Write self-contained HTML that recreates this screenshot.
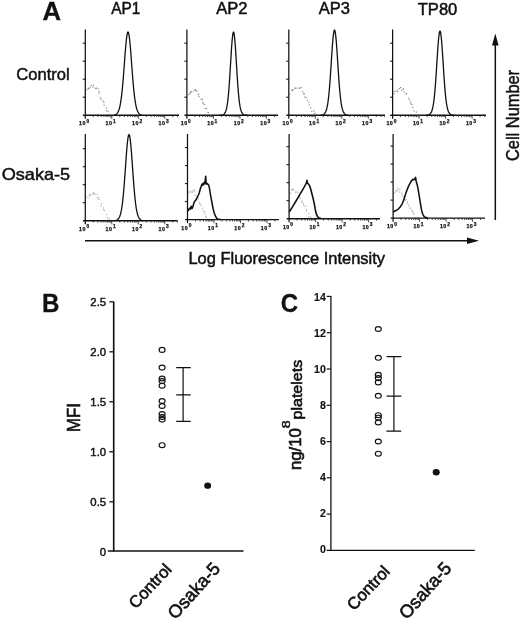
<!DOCTYPE html>
<html><head><meta charset="utf-8"><title>Figure</title>
<style>html,body{margin:0;padding:0;background:#fff}svg{display:block}</style></head>
<body>
<svg width="520" height="620" viewBox="0 0 520 620">
<rect width="520" height="620" fill="#fff"/>
<g font-family='"Liberation Sans", Arial, Helvetica, sans-serif' fill="#111">
<text transform="translate(42.41,19.85) rotate(0) scale(1.0151,1)" font-size="25.29" font-weight="bold" stroke="#111" stroke-width="0.30" >A</text>
<text transform="translate(42.08,311.75) rotate(0) scale(0.9667,1)" font-size="24.93" font-weight="bold" stroke="#111" stroke-width="0.30" >B</text>
<text transform="translate(280.69,311.70) rotate(0) scale(0.9428,1)" font-size="25.42" font-weight="bold" stroke="#111" stroke-width="0.30" >C</text>
<text transform="translate(111.16,14.16) rotate(0) scale(0.9517,1)" font-size="16.19" stroke="#111" stroke-width="0.48" >AP1</text>
<text transform="translate(216.16,14.26) rotate(0) scale(1.0297,1)" font-size="16.10" stroke="#111" stroke-width="0.48" >AP2</text>
<text transform="translate(318.66,14.35) rotate(0) scale(1.0189,1)" font-size="16.23" stroke="#111" stroke-width="0.48" >AP3</text>
<text transform="translate(417.73,14.50) rotate(0) scale(1.0300,1)" font-size="16.08" stroke="#111" stroke-width="0.48" >TP80</text>
<text transform="translate(16.31,79.59) rotate(0) scale(0.9636,1)" font-size="17.17" stroke="#111" stroke-width="0.48" >Control</text>
<text transform="translate(1.67,179.89) rotate(0) scale(1.0564,1)" font-size="17.17" stroke="#111" stroke-width="0.48" >Osaka-5</text>
<text transform="translate(188.42,263.68) rotate(0) scale(1.0523,1)" font-size="15.64" stroke="#111" stroke-width="0.48" >Log Fluorescence Intensity</text>
<text transform="translate(518.88,160.98) rotate(-90) scale(0.9328,1)" font-size="17.58" stroke="#111" stroke-width="0.48" >Cell Number</text>
</g>
<g stroke="#111" stroke-width="1.4" fill="none">
<line x1="85.30" y1="29.50" x2="85.30" y2="118.80" stroke-width="1.25"/>
<line x1="82.90" y1="115.20" x2="179.00" y2="115.20"/>
</g>
<g stroke="#111" stroke-width="1.05">
<line x1="82.70" y1="97.20" x2="85.30" y2="97.20"/>
<line x1="82.70" y1="79.20" x2="85.30" y2="79.20"/>
<line x1="82.70" y1="61.20" x2="85.30" y2="61.20"/>
<line x1="82.70" y1="43.20" x2="85.30" y2="43.20"/>
</g>
<g stroke="#222" stroke-width="0.8">
<line x1="93.28" y1="115.20" x2="93.28" y2="117.10"/>
<line x1="97.94" y1="115.20" x2="97.94" y2="117.10"/>
<line x1="101.25" y1="115.20" x2="101.25" y2="117.10"/>
<line x1="103.82" y1="115.20" x2="103.82" y2="117.10"/>
<line x1="105.92" y1="115.20" x2="105.92" y2="117.10"/>
<line x1="107.70" y1="115.20" x2="107.70" y2="117.10"/>
<line x1="109.23" y1="115.20" x2="109.23" y2="117.10"/>
<line x1="110.59" y1="115.20" x2="110.59" y2="117.10"/>
<line x1="111.80" y1="115.20" x2="111.80" y2="118.80"/>
<line x1="119.78" y1="115.20" x2="119.78" y2="117.10"/>
<line x1="124.44" y1="115.20" x2="124.44" y2="117.10"/>
<line x1="127.75" y1="115.20" x2="127.75" y2="117.10"/>
<line x1="130.32" y1="115.20" x2="130.32" y2="117.10"/>
<line x1="132.42" y1="115.20" x2="132.42" y2="117.10"/>
<line x1="134.20" y1="115.20" x2="134.20" y2="117.10"/>
<line x1="135.73" y1="115.20" x2="135.73" y2="117.10"/>
<line x1="137.09" y1="115.20" x2="137.09" y2="117.10"/>
<line x1="138.30" y1="115.20" x2="138.30" y2="118.80"/>
<line x1="146.28" y1="115.20" x2="146.28" y2="117.10"/>
<line x1="150.94" y1="115.20" x2="150.94" y2="117.10"/>
<line x1="154.25" y1="115.20" x2="154.25" y2="117.10"/>
<line x1="156.82" y1="115.20" x2="156.82" y2="117.10"/>
<line x1="158.92" y1="115.20" x2="158.92" y2="117.10"/>
<line x1="160.70" y1="115.20" x2="160.70" y2="117.10"/>
<line x1="162.23" y1="115.20" x2="162.23" y2="117.10"/>
<line x1="163.59" y1="115.20" x2="163.59" y2="117.10"/>
<line x1="164.80" y1="115.20" x2="164.80" y2="118.80"/>
<line x1="172.78" y1="115.20" x2="172.78" y2="117.10"/>
<line x1="177.44" y1="115.20" x2="177.44" y2="117.10"/>
</g>
<text x="79.10" y="125.40" font-size="5.3" letter-spacing="0.5" font-weight="bold" fill="#111" stroke="#111" stroke-width="0.25" font-family='"Liberation Sans", Arial, Helvetica, sans-serif'>10<tspan dy="-2.5" dx="0.5" font-size="4.8">0</tspan></text>
<text x="105.60" y="125.40" font-size="5.3" letter-spacing="0.5" font-weight="bold" fill="#111" stroke="#111" stroke-width="0.25" font-family='"Liberation Sans", Arial, Helvetica, sans-serif'>10<tspan dy="-2.5" dx="0.5" font-size="4.8">1</tspan></text>
<text x="132.10" y="125.40" font-size="5.3" letter-spacing="0.5" font-weight="bold" fill="#111" stroke="#111" stroke-width="0.25" font-family='"Liberation Sans", Arial, Helvetica, sans-serif'>10<tspan dy="-2.5" dx="0.5" font-size="4.8">2</tspan></text>
<text x="158.60" y="125.40" font-size="5.3" letter-spacing="0.5" font-weight="bold" fill="#111" stroke="#111" stroke-width="0.25" font-family='"Liberation Sans", Arial, Helvetica, sans-serif'>10<tspan dy="-2.5" dx="0.5" font-size="4.8">3</tspan></text>
<g fill="#555" opacity="0.70"><rect x="85.78" y="89.52" width="1.15" height="1.15"/><rect x="87.45" y="88.14" width="1.15" height="1.15"/><rect x="88.31" y="88.03" width="1.15" height="1.15"/><rect x="88.53" y="87.54" width="1.15" height="1.15"/><rect x="89.56" y="86.51" width="1.15" height="1.15"/><rect x="90.70" y="84.81" width="1.15" height="1.15"/><rect x="92.41" y="86.75" width="1.15" height="1.15"/><rect x="92.94" y="84.63" width="1.15" height="1.15"/><rect x="94.92" y="87.81" width="1.15" height="1.15"/><rect x="95.90" y="87.61" width="1.15" height="1.15"/><rect x="97.70" y="88.26" width="1.15" height="1.15"/><rect x="98.56" y="91.01" width="1.15" height="1.15"/><rect x="98.35" y="92.59" width="1.15" height="1.15"/><rect x="99.72" y="97.09" width="1.15" height="1.15"/><rect x="100.56" y="98.69" width="1.15" height="1.15"/><rect x="102.46" y="100.41" width="1.15" height="1.15"/><rect x="103.37" y="101.79" width="1.15" height="1.15"/><rect x="103.56" y="104.57" width="1.15" height="1.15"/><rect x="105.76" y="107.50" width="1.15" height="1.15"/><rect x="106.17" y="110.08" width="1.15" height="1.15"/><rect x="107.49" y="111.06" width="1.15" height="1.15"/><rect x="109.18" y="114.03" width="1.15" height="1.15"/><rect x="109.27" y="115.10" width="1.15" height="1.15"/><rect x="110.85" y="117.30" width="1.15" height="1.15"/></g>
<path d="M114.00 115.20 L114.47 115.20 L114.93 115.00 L115.40 114.74 L115.87 114.44 L116.33 114.08 L116.80 113.64 L117.27 113.11 L117.73 112.44 L118.20 111.61 L118.67 110.56 L119.13 109.25 L119.60 107.62 L120.07 105.61 L120.53 103.15 L121.00 100.20 L121.47 96.71 L121.93 92.65 L122.40 88.02 L122.87 82.86 L123.33 77.22 L123.80 71.22 L124.27 65.00 L124.73 58.75 L125.20 52.67 L125.67 46.99 L126.13 41.95 L126.60 37.76 L127.07 34.61 L127.53 32.66 L128.00 32.00 L128.47 32.66 L128.93 34.61 L129.40 37.76 L129.87 41.95 L130.33 46.99 L130.80 52.67 L131.27 58.75 L131.73 65.00 L132.20 71.22 L132.67 77.22 L133.13 82.86 L133.60 88.02 L134.07 92.65 L134.53 96.71 L135.00 100.20 L135.47 103.15 L135.93 105.61 L136.40 107.62 L136.87 109.25 L137.33 110.56 L137.80 111.61 L138.27 112.44 L138.73 113.11 L139.20 113.64 L139.67 114.08 L140.13 114.44 L140.60 114.74 L141.07 115.00 L141.53 115.20 L142.00 115.20" fill="none" stroke="#111" stroke-width="1.30" stroke-linejoin="round"/>
<g stroke="#111" stroke-width="1.4" fill="none">
<line x1="186.90" y1="29.50" x2="186.90" y2="118.80" stroke-width="1.25"/>
<line x1="184.50" y1="115.20" x2="278.00" y2="115.20"/>
</g>
<g stroke="#111" stroke-width="1.05">
<line x1="184.30" y1="97.20" x2="186.90" y2="97.20"/>
<line x1="184.30" y1="79.20" x2="186.90" y2="79.20"/>
<line x1="184.30" y1="61.20" x2="186.90" y2="61.20"/>
<line x1="184.30" y1="43.20" x2="186.90" y2="43.20"/>
</g>
<g stroke="#222" stroke-width="0.8">
<line x1="194.88" y1="115.20" x2="194.88" y2="117.10"/>
<line x1="199.54" y1="115.20" x2="199.54" y2="117.10"/>
<line x1="202.85" y1="115.20" x2="202.85" y2="117.10"/>
<line x1="205.42" y1="115.20" x2="205.42" y2="117.10"/>
<line x1="207.52" y1="115.20" x2="207.52" y2="117.10"/>
<line x1="209.30" y1="115.20" x2="209.30" y2="117.10"/>
<line x1="210.83" y1="115.20" x2="210.83" y2="117.10"/>
<line x1="212.19" y1="115.20" x2="212.19" y2="117.10"/>
<line x1="213.40" y1="115.20" x2="213.40" y2="118.80"/>
<line x1="221.38" y1="115.20" x2="221.38" y2="117.10"/>
<line x1="226.04" y1="115.20" x2="226.04" y2="117.10"/>
<line x1="229.35" y1="115.20" x2="229.35" y2="117.10"/>
<line x1="231.92" y1="115.20" x2="231.92" y2="117.10"/>
<line x1="234.02" y1="115.20" x2="234.02" y2="117.10"/>
<line x1="235.80" y1="115.20" x2="235.80" y2="117.10"/>
<line x1="237.33" y1="115.20" x2="237.33" y2="117.10"/>
<line x1="238.69" y1="115.20" x2="238.69" y2="117.10"/>
<line x1="239.90" y1="115.20" x2="239.90" y2="118.80"/>
<line x1="247.88" y1="115.20" x2="247.88" y2="117.10"/>
<line x1="252.54" y1="115.20" x2="252.54" y2="117.10"/>
<line x1="255.85" y1="115.20" x2="255.85" y2="117.10"/>
<line x1="258.42" y1="115.20" x2="258.42" y2="117.10"/>
<line x1="260.52" y1="115.20" x2="260.52" y2="117.10"/>
<line x1="262.30" y1="115.20" x2="262.30" y2="117.10"/>
<line x1="263.83" y1="115.20" x2="263.83" y2="117.10"/>
<line x1="265.19" y1="115.20" x2="265.19" y2="117.10"/>
<line x1="266.40" y1="115.20" x2="266.40" y2="118.80"/>
<line x1="274.38" y1="115.20" x2="274.38" y2="117.10"/>
</g>
<text x="180.70" y="125.40" font-size="5.3" letter-spacing="0.5" font-weight="bold" fill="#111" stroke="#111" stroke-width="0.25" font-family='"Liberation Sans", Arial, Helvetica, sans-serif'>10<tspan dy="-2.5" dx="0.5" font-size="4.8">0</tspan></text>
<text x="207.20" y="125.40" font-size="5.3" letter-spacing="0.5" font-weight="bold" fill="#111" stroke="#111" stroke-width="0.25" font-family='"Liberation Sans", Arial, Helvetica, sans-serif'>10<tspan dy="-2.5" dx="0.5" font-size="4.8">1</tspan></text>
<text x="233.70" y="125.40" font-size="5.3" letter-spacing="0.5" font-weight="bold" fill="#111" stroke="#111" stroke-width="0.25" font-family='"Liberation Sans", Arial, Helvetica, sans-serif'>10<tspan dy="-2.5" dx="0.5" font-size="4.8">2</tspan></text>
<text x="260.20" y="125.40" font-size="5.3" letter-spacing="0.5" font-weight="bold" fill="#111" stroke="#111" stroke-width="0.25" font-family='"Liberation Sans", Arial, Helvetica, sans-serif'>10<tspan dy="-2.5" dx="0.5" font-size="4.8">3</tspan></text>
<g fill="#555" opacity="0.70"><rect x="188.11" y="93.89" width="1.15" height="1.15"/><rect x="189.61" y="92.17" width="1.15" height="1.15"/><rect x="189.65" y="93.13" width="1.15" height="1.15"/><rect x="190.22" y="91.31" width="1.15" height="1.15"/><rect x="191.06" y="91.10" width="1.15" height="1.15"/><rect x="193.42" y="90.21" width="1.15" height="1.15"/><rect x="194.66" y="89.02" width="1.15" height="1.15"/><rect x="195.39" y="89.84" width="1.15" height="1.15"/><rect x="196.23" y="90.59" width="1.15" height="1.15"/><rect x="197.74" y="93.54" width="1.15" height="1.15"/><rect x="198.13" y="94.19" width="1.15" height="1.15"/><rect x="198.44" y="96.02" width="1.15" height="1.15"/><rect x="200.54" y="98.79" width="1.15" height="1.15"/><rect x="201.90" y="98.45" width="1.15" height="1.15"/><rect x="202.16" y="101.68" width="1.15" height="1.15"/><rect x="202.56" y="103.03" width="1.15" height="1.15"/><rect x="203.87" y="103.93" width="1.15" height="1.15"/><rect x="204.72" y="107.96" width="1.15" height="1.15"/><rect x="205.89" y="108.15" width="1.15" height="1.15"/><rect x="207.41" y="111.89" width="1.15" height="1.15"/><rect x="207.90" y="112.12" width="1.15" height="1.15"/><rect x="209.79" y="114.93" width="1.15" height="1.15"/><rect x="211.33" y="116.10" width="1.15" height="1.15"/><rect x="211.40" y="115.71" width="1.15" height="1.15"/></g>
<path d="M219.50 115.20 L219.97 115.20 L220.43 115.20 L220.90 115.20 L221.37 115.20 L221.83 115.20 L222.30 115.20 L222.77 115.13 L223.23 114.83 L223.70 114.46 L224.17 114.01 L224.63 113.43 L225.10 112.69 L225.57 111.70 L226.03 110.40 L226.50 108.67 L226.97 106.42 L227.43 103.52 L227.90 99.86 L228.37 95.37 L228.83 90.00 L229.30 83.78 L229.77 76.82 L230.23 69.31 L230.70 61.54 L231.17 53.90 L231.63 46.81 L232.10 40.70 L232.57 35.99 L233.03 33.02 L233.50 32.00 L233.97 33.02 L234.43 35.99 L234.90 40.70 L235.37 46.81 L235.83 53.90 L236.30 61.54 L236.77 69.31 L237.23 76.82 L237.70 83.78 L238.17 90.00 L238.63 95.37 L239.10 99.86 L239.57 103.52 L240.03 106.42 L240.50 108.67 L240.97 110.40 L241.43 111.70 L241.90 112.69 L242.37 113.43 L242.83 114.01 L243.30 114.46 L243.77 114.83 L244.23 115.13 L244.70 115.20 L245.17 115.20 L245.63 115.20 L246.10 115.20 L246.57 115.20 L247.03 115.20 L247.50 115.20" fill="none" stroke="#111" stroke-width="1.30" stroke-linejoin="round"/>
<g stroke="#111" stroke-width="1.4" fill="none">
<line x1="288.80" y1="29.50" x2="288.80" y2="118.80" stroke-width="1.25"/>
<line x1="286.40" y1="115.20" x2="385.00" y2="115.20"/>
</g>
<g stroke="#111" stroke-width="1.05">
<line x1="286.20" y1="97.20" x2="288.80" y2="97.20"/>
<line x1="286.20" y1="79.20" x2="288.80" y2="79.20"/>
<line x1="286.20" y1="61.20" x2="288.80" y2="61.20"/>
<line x1="286.20" y1="43.20" x2="288.80" y2="43.20"/>
</g>
<g stroke="#222" stroke-width="0.8">
<line x1="296.78" y1="115.20" x2="296.78" y2="117.10"/>
<line x1="301.44" y1="115.20" x2="301.44" y2="117.10"/>
<line x1="304.75" y1="115.20" x2="304.75" y2="117.10"/>
<line x1="307.32" y1="115.20" x2="307.32" y2="117.10"/>
<line x1="309.42" y1="115.20" x2="309.42" y2="117.10"/>
<line x1="311.20" y1="115.20" x2="311.20" y2="117.10"/>
<line x1="312.73" y1="115.20" x2="312.73" y2="117.10"/>
<line x1="314.09" y1="115.20" x2="314.09" y2="117.10"/>
<line x1="315.30" y1="115.20" x2="315.30" y2="118.80"/>
<line x1="323.28" y1="115.20" x2="323.28" y2="117.10"/>
<line x1="327.94" y1="115.20" x2="327.94" y2="117.10"/>
<line x1="331.25" y1="115.20" x2="331.25" y2="117.10"/>
<line x1="333.82" y1="115.20" x2="333.82" y2="117.10"/>
<line x1="335.92" y1="115.20" x2="335.92" y2="117.10"/>
<line x1="337.70" y1="115.20" x2="337.70" y2="117.10"/>
<line x1="339.23" y1="115.20" x2="339.23" y2="117.10"/>
<line x1="340.59" y1="115.20" x2="340.59" y2="117.10"/>
<line x1="341.80" y1="115.20" x2="341.80" y2="118.80"/>
<line x1="349.78" y1="115.20" x2="349.78" y2="117.10"/>
<line x1="354.44" y1="115.20" x2="354.44" y2="117.10"/>
<line x1="357.75" y1="115.20" x2="357.75" y2="117.10"/>
<line x1="360.32" y1="115.20" x2="360.32" y2="117.10"/>
<line x1="362.42" y1="115.20" x2="362.42" y2="117.10"/>
<line x1="364.20" y1="115.20" x2="364.20" y2="117.10"/>
<line x1="365.73" y1="115.20" x2="365.73" y2="117.10"/>
<line x1="367.09" y1="115.20" x2="367.09" y2="117.10"/>
<line x1="368.30" y1="115.20" x2="368.30" y2="118.80"/>
<line x1="376.28" y1="115.20" x2="376.28" y2="117.10"/>
<line x1="380.94" y1="115.20" x2="380.94" y2="117.10"/>
<line x1="384.25" y1="115.20" x2="384.25" y2="117.10"/>
</g>
<text x="282.60" y="125.40" font-size="5.3" letter-spacing="0.5" font-weight="bold" fill="#111" stroke="#111" stroke-width="0.25" font-family='"Liberation Sans", Arial, Helvetica, sans-serif'>10<tspan dy="-2.5" dx="0.5" font-size="4.8">0</tspan></text>
<text x="309.10" y="125.40" font-size="5.3" letter-spacing="0.5" font-weight="bold" fill="#111" stroke="#111" stroke-width="0.25" font-family='"Liberation Sans", Arial, Helvetica, sans-serif'>10<tspan dy="-2.5" dx="0.5" font-size="4.8">1</tspan></text>
<text x="335.60" y="125.40" font-size="5.3" letter-spacing="0.5" font-weight="bold" fill="#111" stroke="#111" stroke-width="0.25" font-family='"Liberation Sans", Arial, Helvetica, sans-serif'>10<tspan dy="-2.5" dx="0.5" font-size="4.8">2</tspan></text>
<text x="362.10" y="125.40" font-size="5.3" letter-spacing="0.5" font-weight="bold" fill="#111" stroke="#111" stroke-width="0.25" font-family='"Liberation Sans", Arial, Helvetica, sans-serif'>10<tspan dy="-2.5" dx="0.5" font-size="4.8">3</tspan></text>
<g fill="#555" opacity="0.70"><rect x="289.35" y="93.49" width="1.15" height="1.15"/><rect x="291.61" y="90.08" width="1.15" height="1.15"/><rect x="291.38" y="89.33" width="1.15" height="1.15"/><rect x="292.67" y="89.23" width="1.15" height="1.15"/><rect x="294.49" y="87.73" width="1.15" height="1.15"/><rect x="294.62" y="87.59" width="1.15" height="1.15"/><rect x="296.46" y="87.59" width="1.15" height="1.15"/><rect x="298.69" y="87.70" width="1.15" height="1.15"/><rect x="299.09" y="87.44" width="1.15" height="1.15"/><rect x="300.56" y="87.04" width="1.15" height="1.15"/><rect x="302.15" y="91.00" width="1.15" height="1.15"/><rect x="303.28" y="92.90" width="1.15" height="1.15"/><rect x="303.60" y="93.65" width="1.15" height="1.15"/><rect x="304.26" y="96.59" width="1.15" height="1.15"/><rect x="305.37" y="97.05" width="1.15" height="1.15"/><rect x="306.81" y="99.70" width="1.15" height="1.15"/><rect x="308.23" y="101.70" width="1.15" height="1.15"/><rect x="308.80" y="104.32" width="1.15" height="1.15"/><rect x="310.17" y="107.21" width="1.15" height="1.15"/><rect x="311.22" y="110.91" width="1.15" height="1.15"/><rect x="313.46" y="110.49" width="1.15" height="1.15"/><rect x="313.99" y="112.82" width="1.15" height="1.15"/><rect x="315.37" y="113.57" width="1.15" height="1.15"/><rect x="317.43" y="117.59" width="1.15" height="1.15"/></g>
<path d="M320.50 115.20 L320.97 115.20 L321.43 115.20 L321.90 115.20 L322.37 115.20 L322.83 115.03 L323.30 114.73 L323.77 114.38 L324.23 113.95 L324.70 113.41 L325.17 112.73 L325.63 111.86 L326.10 110.74 L326.57 109.29 L327.03 107.44 L327.50 105.09 L327.97 102.16 L328.43 98.57 L328.90 94.26 L329.37 89.21 L329.83 83.45 L330.30 77.05 L330.77 70.16 L331.23 62.99 L331.70 55.81 L332.17 48.93 L332.63 42.67 L333.10 37.39 L333.57 33.37 L334.03 30.86 L334.50 30.00 L334.97 30.86 L335.43 33.37 L335.90 37.39 L336.37 42.67 L336.83 48.93 L337.30 55.81 L337.77 62.99 L338.23 70.16 L338.70 77.05 L339.17 83.45 L339.63 89.21 L340.10 94.26 L340.57 98.57 L341.03 102.16 L341.50 105.09 L341.97 107.44 L342.43 109.29 L342.90 110.74 L343.37 111.86 L343.83 112.73 L344.30 113.41 L344.77 113.95 L345.23 114.38 L345.70 114.73 L346.17 115.03 L346.63 115.20 L347.10 115.20 L347.57 115.20 L348.03 115.20 L348.50 115.20" fill="none" stroke="#111" stroke-width="1.30" stroke-linejoin="round"/>
<g stroke="#111" stroke-width="1.4" fill="none">
<line x1="392.60" y1="29.50" x2="392.60" y2="118.80" stroke-width="1.25"/>
<line x1="390.20" y1="115.20" x2="486.00" y2="115.20"/>
</g>
<g stroke="#111" stroke-width="1.05">
<line x1="390.00" y1="97.20" x2="392.60" y2="97.20"/>
<line x1="390.00" y1="79.20" x2="392.60" y2="79.20"/>
<line x1="390.00" y1="61.20" x2="392.60" y2="61.20"/>
<line x1="390.00" y1="43.20" x2="392.60" y2="43.20"/>
</g>
<g stroke="#222" stroke-width="0.8">
<line x1="400.58" y1="115.20" x2="400.58" y2="117.10"/>
<line x1="405.24" y1="115.20" x2="405.24" y2="117.10"/>
<line x1="408.55" y1="115.20" x2="408.55" y2="117.10"/>
<line x1="411.12" y1="115.20" x2="411.12" y2="117.10"/>
<line x1="413.22" y1="115.20" x2="413.22" y2="117.10"/>
<line x1="415.00" y1="115.20" x2="415.00" y2="117.10"/>
<line x1="416.53" y1="115.20" x2="416.53" y2="117.10"/>
<line x1="417.89" y1="115.20" x2="417.89" y2="117.10"/>
<line x1="419.10" y1="115.20" x2="419.10" y2="118.80"/>
<line x1="427.08" y1="115.20" x2="427.08" y2="117.10"/>
<line x1="431.74" y1="115.20" x2="431.74" y2="117.10"/>
<line x1="435.05" y1="115.20" x2="435.05" y2="117.10"/>
<line x1="437.62" y1="115.20" x2="437.62" y2="117.10"/>
<line x1="439.72" y1="115.20" x2="439.72" y2="117.10"/>
<line x1="441.50" y1="115.20" x2="441.50" y2="117.10"/>
<line x1="443.03" y1="115.20" x2="443.03" y2="117.10"/>
<line x1="444.39" y1="115.20" x2="444.39" y2="117.10"/>
<line x1="445.60" y1="115.20" x2="445.60" y2="118.80"/>
<line x1="453.58" y1="115.20" x2="453.58" y2="117.10"/>
<line x1="458.24" y1="115.20" x2="458.24" y2="117.10"/>
<line x1="461.55" y1="115.20" x2="461.55" y2="117.10"/>
<line x1="464.12" y1="115.20" x2="464.12" y2="117.10"/>
<line x1="466.22" y1="115.20" x2="466.22" y2="117.10"/>
<line x1="468.00" y1="115.20" x2="468.00" y2="117.10"/>
<line x1="469.53" y1="115.20" x2="469.53" y2="117.10"/>
<line x1="470.89" y1="115.20" x2="470.89" y2="117.10"/>
<line x1="472.10" y1="115.20" x2="472.10" y2="118.80"/>
<line x1="480.08" y1="115.20" x2="480.08" y2="117.10"/>
<line x1="484.74" y1="115.20" x2="484.74" y2="117.10"/>
</g>
<text x="386.40" y="125.40" font-size="5.3" letter-spacing="0.5" font-weight="bold" fill="#111" stroke="#111" stroke-width="0.25" font-family='"Liberation Sans", Arial, Helvetica, sans-serif'>10<tspan dy="-2.5" dx="0.5" font-size="4.8">0</tspan></text>
<text x="412.90" y="125.40" font-size="5.3" letter-spacing="0.5" font-weight="bold" fill="#111" stroke="#111" stroke-width="0.25" font-family='"Liberation Sans", Arial, Helvetica, sans-serif'>10<tspan dy="-2.5" dx="0.5" font-size="4.8">1</tspan></text>
<text x="439.40" y="125.40" font-size="5.3" letter-spacing="0.5" font-weight="bold" fill="#111" stroke="#111" stroke-width="0.25" font-family='"Liberation Sans", Arial, Helvetica, sans-serif'>10<tspan dy="-2.5" dx="0.5" font-size="4.8">2</tspan></text>
<text x="465.90" y="125.40" font-size="5.3" letter-spacing="0.5" font-weight="bold" fill="#111" stroke="#111" stroke-width="0.25" font-family='"Liberation Sans", Arial, Helvetica, sans-serif'>10<tspan dy="-2.5" dx="0.5" font-size="4.8">3</tspan></text>
<g fill="#555" opacity="0.70"><rect x="393.34" y="93.19" width="1.15" height="1.15"/><rect x="393.74" y="90.96" width="1.15" height="1.15"/><rect x="395.28" y="90.53" width="1.15" height="1.15"/><rect x="397.24" y="89.32" width="1.15" height="1.15"/><rect x="396.87" y="91.08" width="1.15" height="1.15"/><rect x="398.86" y="87.87" width="1.15" height="1.15"/><rect x="399.97" y="86.99" width="1.15" height="1.15"/><rect x="401.03" y="89.71" width="1.15" height="1.15"/><rect x="402.71" y="88.64" width="1.15" height="1.15"/><rect x="402.71" y="88.38" width="1.15" height="1.15"/><rect x="403.63" y="91.21" width="1.15" height="1.15"/><rect x="405.37" y="93.00" width="1.15" height="1.15"/><rect x="406.08" y="93.20" width="1.15" height="1.15"/><rect x="408.03" y="97.77" width="1.15" height="1.15"/><rect x="409.19" y="99.46" width="1.15" height="1.15"/><rect x="410.21" y="101.58" width="1.15" height="1.15"/><rect x="410.23" y="103.22" width="1.15" height="1.15"/><rect x="411.54" y="103.98" width="1.15" height="1.15"/><rect x="412.04" y="107.00" width="1.15" height="1.15"/><rect x="413.54" y="110.41" width="1.15" height="1.15"/><rect x="415.87" y="111.53" width="1.15" height="1.15"/><rect x="416.92" y="114.96" width="1.15" height="1.15"/><rect x="418.04" y="114.43" width="1.15" height="1.15"/><rect x="417.80" y="115.20" width="1.15" height="1.15"/></g>
<path d="M426.00 115.20 L426.47 115.20 L426.93 115.20 L427.40 115.20 L427.87 115.20 L428.33 115.20 L428.80 114.97 L429.27 114.65 L429.73 114.27 L430.20 113.80 L430.67 113.21 L431.13 112.46 L431.60 111.47 L432.07 110.19 L432.53 108.53 L433.00 106.40 L433.47 103.70 L433.93 100.33 L434.40 96.24 L434.87 91.37 L435.33 85.73 L435.80 79.39 L436.27 72.49 L436.73 65.22 L437.20 57.87 L437.67 50.77 L438.13 44.28 L438.60 38.76 L439.07 34.54 L439.53 31.90 L440.00 31.00 L440.47 31.90 L440.93 34.54 L441.40 38.76 L441.87 44.28 L442.33 50.77 L442.80 57.87 L443.27 65.22 L443.73 72.49 L444.20 79.39 L444.67 85.73 L445.13 91.37 L445.60 96.24 L446.07 100.33 L446.53 103.70 L447.00 106.40 L447.47 108.53 L447.93 110.19 L448.40 111.47 L448.87 112.46 L449.33 113.21 L449.80 113.80 L450.27 114.27 L450.73 114.65 L451.20 114.97 L451.67 115.20 L452.13 115.20 L452.60 115.20 L453.07 115.20 L453.53 115.20 L454.00 115.20" fill="none" stroke="#111" stroke-width="1.30" stroke-linejoin="round"/>
<g stroke="#111" stroke-width="1.4" fill="none">
<line x1="85.30" y1="134.00" x2="85.30" y2="224.30" stroke-width="1.25"/>
<line x1="82.90" y1="220.70" x2="177.50" y2="220.70"/>
</g>
<g stroke="#111" stroke-width="1.05">
<line x1="82.70" y1="202.70" x2="85.30" y2="202.70"/>
<line x1="82.70" y1="184.70" x2="85.30" y2="184.70"/>
<line x1="82.70" y1="166.70" x2="85.30" y2="166.70"/>
<line x1="82.70" y1="148.70" x2="85.30" y2="148.70"/>
</g>
<g stroke="#222" stroke-width="0.8">
<line x1="93.28" y1="220.70" x2="93.28" y2="222.60"/>
<line x1="97.94" y1="220.70" x2="97.94" y2="222.60"/>
<line x1="101.25" y1="220.70" x2="101.25" y2="222.60"/>
<line x1="103.82" y1="220.70" x2="103.82" y2="222.60"/>
<line x1="105.92" y1="220.70" x2="105.92" y2="222.60"/>
<line x1="107.70" y1="220.70" x2="107.70" y2="222.60"/>
<line x1="109.23" y1="220.70" x2="109.23" y2="222.60"/>
<line x1="110.59" y1="220.70" x2="110.59" y2="222.60"/>
<line x1="111.80" y1="220.70" x2="111.80" y2="224.30"/>
<line x1="119.78" y1="220.70" x2="119.78" y2="222.60"/>
<line x1="124.44" y1="220.70" x2="124.44" y2="222.60"/>
<line x1="127.75" y1="220.70" x2="127.75" y2="222.60"/>
<line x1="130.32" y1="220.70" x2="130.32" y2="222.60"/>
<line x1="132.42" y1="220.70" x2="132.42" y2="222.60"/>
<line x1="134.20" y1="220.70" x2="134.20" y2="222.60"/>
<line x1="135.73" y1="220.70" x2="135.73" y2="222.60"/>
<line x1="137.09" y1="220.70" x2="137.09" y2="222.60"/>
<line x1="138.30" y1="220.70" x2="138.30" y2="224.30"/>
<line x1="146.28" y1="220.70" x2="146.28" y2="222.60"/>
<line x1="150.94" y1="220.70" x2="150.94" y2="222.60"/>
<line x1="154.25" y1="220.70" x2="154.25" y2="222.60"/>
<line x1="156.82" y1="220.70" x2="156.82" y2="222.60"/>
<line x1="158.92" y1="220.70" x2="158.92" y2="222.60"/>
<line x1="160.70" y1="220.70" x2="160.70" y2="222.60"/>
<line x1="162.23" y1="220.70" x2="162.23" y2="222.60"/>
<line x1="163.59" y1="220.70" x2="163.59" y2="222.60"/>
<line x1="164.80" y1="220.70" x2="164.80" y2="224.30"/>
<line x1="172.78" y1="220.70" x2="172.78" y2="222.60"/>
<line x1="177.44" y1="220.70" x2="177.44" y2="222.60"/>
</g>
<text x="79.10" y="230.90" font-size="5.3" letter-spacing="0.5" font-weight="bold" fill="#111" stroke="#111" stroke-width="0.25" font-family='"Liberation Sans", Arial, Helvetica, sans-serif'>10<tspan dy="-2.5" dx="0.5" font-size="4.8">0</tspan></text>
<text x="105.60" y="230.90" font-size="5.3" letter-spacing="0.5" font-weight="bold" fill="#111" stroke="#111" stroke-width="0.25" font-family='"Liberation Sans", Arial, Helvetica, sans-serif'>10<tspan dy="-2.5" dx="0.5" font-size="4.8">1</tspan></text>
<text x="132.10" y="230.90" font-size="5.3" letter-spacing="0.5" font-weight="bold" fill="#111" stroke="#111" stroke-width="0.25" font-family='"Liberation Sans", Arial, Helvetica, sans-serif'>10<tspan dy="-2.5" dx="0.5" font-size="4.8">2</tspan></text>
<text x="158.60" y="230.90" font-size="5.3" letter-spacing="0.5" font-weight="bold" fill="#111" stroke="#111" stroke-width="0.25" font-family='"Liberation Sans", Arial, Helvetica, sans-serif'>10<tspan dy="-2.5" dx="0.5" font-size="4.8">3</tspan></text>
<g fill="#555" opacity="0.50"><rect x="85.55" y="196.19" width="1.15" height="1.15"/><rect x="87.40" y="197.29" width="1.15" height="1.15"/><rect x="88.86" y="194.89" width="1.15" height="1.15"/><rect x="89.60" y="194.97" width="1.15" height="1.15"/><rect x="89.65" y="193.74" width="1.15" height="1.15"/><rect x="92.21" y="193.52" width="1.15" height="1.15"/><rect x="92.99" y="192.14" width="1.15" height="1.15"/><rect x="93.04" y="192.94" width="1.15" height="1.15"/><rect x="94.39" y="193.81" width="1.15" height="1.15"/><rect x="96.61" y="194.02" width="1.15" height="1.15"/><rect x="96.66" y="197.50" width="1.15" height="1.15"/><rect x="98.32" y="196.92" width="1.15" height="1.15"/><rect x="98.32" y="198.92" width="1.15" height="1.15"/><rect x="100.79" y="203.20" width="1.15" height="1.15"/><rect x="100.50" y="205.54" width="1.15" height="1.15"/><rect x="103.07" y="207.30" width="1.15" height="1.15"/><rect x="103.01" y="209.25" width="1.15" height="1.15"/><rect x="103.69" y="209.79" width="1.15" height="1.15"/><rect x="106.28" y="213.96" width="1.15" height="1.15"/><rect x="106.55" y="216.87" width="1.15" height="1.15"/><rect x="107.46" y="218.51" width="1.15" height="1.15"/><rect x="109.24" y="218.03" width="1.15" height="1.15"/><rect x="109.28" y="219.71" width="1.15" height="1.15"/><rect x="110.33" y="221.85" width="1.15" height="1.15"/></g>
<path d="M114.00 220.70 L114.48 220.70 L114.97 220.70 L115.45 220.70 L115.93 220.68 L116.42 220.43 L116.90 220.13 L117.38 219.77 L117.87 219.34 L118.35 218.81 L118.83 218.14 L119.32 217.30 L119.80 216.22 L120.28 214.85 L120.77 213.12 L121.25 210.95 L121.73 208.26 L122.22 205.00 L122.70 201.09 L123.18 196.52 L123.67 191.28 L124.15 185.43 L124.63 179.05 L125.12 172.31 L125.60 165.41 L126.08 158.58 L126.57 152.11 L127.05 146.28 L127.53 141.38 L128.02 137.67 L128.50 135.33 L128.98 134.50 L129.47 135.22 L129.95 137.46 L130.43 141.09 L130.92 145.91 L131.40 151.68 L131.88 158.12 L132.37 164.93 L132.85 171.84 L133.33 178.60 L133.82 185.00 L134.30 190.90 L134.78 196.18 L135.27 200.80 L135.75 204.75 L136.23 208.06 L136.72 210.78 L137.20 212.98 L137.68 214.74 L138.17 216.14 L138.65 217.23 L139.13 218.09 L139.62 218.77 L140.10 219.31 L140.58 219.74 L141.07 220.11 L141.55 220.41 L142.03 220.67 L142.52 220.70 L143.00 220.70" fill="none" stroke="#111" stroke-width="1.30" stroke-linejoin="round"/>
<g stroke="#111" stroke-width="1.4" fill="none">
<line x1="187.50" y1="134.00" x2="187.50" y2="223.20" stroke-width="1.25"/>
<line x1="185.10" y1="219.60" x2="279.00" y2="219.60"/>
</g>
<g stroke="#111" stroke-width="1.05">
<line x1="184.90" y1="201.60" x2="187.50" y2="201.60"/>
<line x1="184.90" y1="183.60" x2="187.50" y2="183.60"/>
<line x1="184.90" y1="165.60" x2="187.50" y2="165.60"/>
<line x1="184.90" y1="147.60" x2="187.50" y2="147.60"/>
</g>
<g stroke="#222" stroke-width="0.8">
<line x1="195.48" y1="219.60" x2="195.48" y2="221.50"/>
<line x1="200.14" y1="219.60" x2="200.14" y2="221.50"/>
<line x1="203.45" y1="219.60" x2="203.45" y2="221.50"/>
<line x1="206.02" y1="219.60" x2="206.02" y2="221.50"/>
<line x1="208.12" y1="219.60" x2="208.12" y2="221.50"/>
<line x1="209.90" y1="219.60" x2="209.90" y2="221.50"/>
<line x1="211.43" y1="219.60" x2="211.43" y2="221.50"/>
<line x1="212.79" y1="219.60" x2="212.79" y2="221.50"/>
<line x1="214.00" y1="219.60" x2="214.00" y2="223.20"/>
<line x1="221.98" y1="219.60" x2="221.98" y2="221.50"/>
<line x1="226.64" y1="219.60" x2="226.64" y2="221.50"/>
<line x1="229.95" y1="219.60" x2="229.95" y2="221.50"/>
<line x1="232.52" y1="219.60" x2="232.52" y2="221.50"/>
<line x1="234.62" y1="219.60" x2="234.62" y2="221.50"/>
<line x1="236.40" y1="219.60" x2="236.40" y2="221.50"/>
<line x1="237.93" y1="219.60" x2="237.93" y2="221.50"/>
<line x1="239.29" y1="219.60" x2="239.29" y2="221.50"/>
<line x1="240.50" y1="219.60" x2="240.50" y2="223.20"/>
<line x1="248.48" y1="219.60" x2="248.48" y2="221.50"/>
<line x1="253.14" y1="219.60" x2="253.14" y2="221.50"/>
<line x1="256.45" y1="219.60" x2="256.45" y2="221.50"/>
<line x1="259.02" y1="219.60" x2="259.02" y2="221.50"/>
<line x1="261.12" y1="219.60" x2="261.12" y2="221.50"/>
<line x1="262.90" y1="219.60" x2="262.90" y2="221.50"/>
<line x1="264.43" y1="219.60" x2="264.43" y2="221.50"/>
<line x1="265.79" y1="219.60" x2="265.79" y2="221.50"/>
<line x1="267.00" y1="219.60" x2="267.00" y2="223.20"/>
<line x1="274.98" y1="219.60" x2="274.98" y2="221.50"/>
</g>
<text x="181.30" y="229.80" font-size="5.3" letter-spacing="0.5" font-weight="bold" fill="#111" stroke="#111" stroke-width="0.25" font-family='"Liberation Sans", Arial, Helvetica, sans-serif'>10<tspan dy="-2.5" dx="0.5" font-size="4.8">0</tspan></text>
<text x="207.80" y="229.80" font-size="5.3" letter-spacing="0.5" font-weight="bold" fill="#111" stroke="#111" stroke-width="0.25" font-family='"Liberation Sans", Arial, Helvetica, sans-serif'>10<tspan dy="-2.5" dx="0.5" font-size="4.8">1</tspan></text>
<text x="234.30" y="229.80" font-size="5.3" letter-spacing="0.5" font-weight="bold" fill="#111" stroke="#111" stroke-width="0.25" font-family='"Liberation Sans", Arial, Helvetica, sans-serif'>10<tspan dy="-2.5" dx="0.5" font-size="4.8">2</tspan></text>
<text x="260.80" y="229.80" font-size="5.3" letter-spacing="0.5" font-weight="bold" fill="#111" stroke="#111" stroke-width="0.25" font-family='"Liberation Sans", Arial, Helvetica, sans-serif'>10<tspan dy="-2.5" dx="0.5" font-size="4.8">3</tspan></text>
<g fill="#555" opacity="0.50"><rect x="187.87" y="191.29" width="1.15" height="1.15"/><rect x="188.53" y="192.38" width="1.15" height="1.15"/><rect x="189.82" y="190.52" width="1.15" height="1.15"/><rect x="191.12" y="191.62" width="1.15" height="1.15"/><rect x="191.72" y="191.44" width="1.15" height="1.15"/><rect x="192.76" y="190.11" width="1.15" height="1.15"/><rect x="193.69" y="189.34" width="1.15" height="1.15"/><rect x="194.43" y="191.23" width="1.15" height="1.15"/><rect x="194.54" y="194.73" width="1.15" height="1.15"/><rect x="195.73" y="195.38" width="1.15" height="1.15"/><rect x="197.62" y="197.47" width="1.15" height="1.15"/><rect x="197.79" y="199.29" width="1.15" height="1.15"/><rect x="199.10" y="202.17" width="1.15" height="1.15"/><rect x="199.18" y="203.54" width="1.15" height="1.15"/><rect x="200.33" y="204.74" width="1.15" height="1.15"/><rect x="202.16" y="207.58" width="1.15" height="1.15"/><rect x="202.67" y="210.44" width="1.15" height="1.15"/><rect x="204.19" y="211.41" width="1.15" height="1.15"/><rect x="204.55" y="213.48" width="1.15" height="1.15"/><rect x="205.26" y="215.83" width="1.15" height="1.15"/><rect x="206.04" y="216.91" width="1.15" height="1.15"/><rect x="206.98" y="219.64" width="1.15" height="1.15"/><rect x="208.27" y="220.69" width="1.15" height="1.15"/><rect x="209.60" y="219.78" width="1.15" height="1.15"/></g>
<path d="M187.50 211.30 L188.40 210.20 L189.30 208.20 L190.20 209.30 L191.20 206.20 L192.00 208.60 L192.80 207.20 L193.60 204.00 L194.40 201.60 L195.20 200.90 L196.00 199.80 L196.80 198.20 L197.60 196.80 L198.40 195.00 L199.20 193.00 L200.00 190.00 L200.70 187.50 L201.30 186.00 L201.90 184.20 L202.50 185.40 L203.10 183.20 L203.70 184.60 L204.30 182.40 L204.90 183.80 L205.40 178.50 L205.70 176.20 L206.00 181.50 L206.50 184.00 L207.20 183.60 L208.00 184.40 L208.80 185.20 L209.40 188.00 L210.20 193.00 L211.20 198.60 L212.20 204.00 L213.20 209.00 L214.20 213.00 L215.40 216.00 L216.80 218.40 L218.50 219.30 L221.00 219.50" fill="none" stroke="#111" stroke-width="1.55" stroke-linejoin="round"/>
<g stroke="#111" stroke-width="1.4" fill="none">
<line x1="289.10" y1="134.00" x2="289.10" y2="222.30" stroke-width="1.25"/>
<line x1="286.70" y1="218.70" x2="380.00" y2="218.70"/>
</g>
<g stroke="#111" stroke-width="1.05">
<line x1="286.50" y1="200.70" x2="289.10" y2="200.70"/>
<line x1="286.50" y1="182.70" x2="289.10" y2="182.70"/>
<line x1="286.50" y1="164.70" x2="289.10" y2="164.70"/>
<line x1="286.50" y1="146.70" x2="289.10" y2="146.70"/>
</g>
<g stroke="#222" stroke-width="0.8">
<line x1="297.08" y1="218.70" x2="297.08" y2="220.60"/>
<line x1="301.74" y1="218.70" x2="301.74" y2="220.60"/>
<line x1="305.05" y1="218.70" x2="305.05" y2="220.60"/>
<line x1="307.62" y1="218.70" x2="307.62" y2="220.60"/>
<line x1="309.72" y1="218.70" x2="309.72" y2="220.60"/>
<line x1="311.50" y1="218.70" x2="311.50" y2="220.60"/>
<line x1="313.03" y1="218.70" x2="313.03" y2="220.60"/>
<line x1="314.39" y1="218.70" x2="314.39" y2="220.60"/>
<line x1="315.60" y1="218.70" x2="315.60" y2="222.30"/>
<line x1="323.58" y1="218.70" x2="323.58" y2="220.60"/>
<line x1="328.24" y1="218.70" x2="328.24" y2="220.60"/>
<line x1="331.55" y1="218.70" x2="331.55" y2="220.60"/>
<line x1="334.12" y1="218.70" x2="334.12" y2="220.60"/>
<line x1="336.22" y1="218.70" x2="336.22" y2="220.60"/>
<line x1="338.00" y1="218.70" x2="338.00" y2="220.60"/>
<line x1="339.53" y1="218.70" x2="339.53" y2="220.60"/>
<line x1="340.89" y1="218.70" x2="340.89" y2="220.60"/>
<line x1="342.10" y1="218.70" x2="342.10" y2="222.30"/>
<line x1="350.08" y1="218.70" x2="350.08" y2="220.60"/>
<line x1="354.74" y1="218.70" x2="354.74" y2="220.60"/>
<line x1="358.05" y1="218.70" x2="358.05" y2="220.60"/>
<line x1="360.62" y1="218.70" x2="360.62" y2="220.60"/>
<line x1="362.72" y1="218.70" x2="362.72" y2="220.60"/>
<line x1="364.50" y1="218.70" x2="364.50" y2="220.60"/>
<line x1="366.03" y1="218.70" x2="366.03" y2="220.60"/>
<line x1="367.39" y1="218.70" x2="367.39" y2="220.60"/>
<line x1="368.60" y1="218.70" x2="368.60" y2="222.30"/>
<line x1="376.58" y1="218.70" x2="376.58" y2="220.60"/>
</g>
<text x="282.90" y="228.90" font-size="5.3" letter-spacing="0.5" font-weight="bold" fill="#111" stroke="#111" stroke-width="0.25" font-family='"Liberation Sans", Arial, Helvetica, sans-serif'>10<tspan dy="-2.5" dx="0.5" font-size="4.8">0</tspan></text>
<text x="309.40" y="228.90" font-size="5.3" letter-spacing="0.5" font-weight="bold" fill="#111" stroke="#111" stroke-width="0.25" font-family='"Liberation Sans", Arial, Helvetica, sans-serif'>10<tspan dy="-2.5" dx="0.5" font-size="4.8">1</tspan></text>
<text x="335.90" y="228.90" font-size="5.3" letter-spacing="0.5" font-weight="bold" fill="#111" stroke="#111" stroke-width="0.25" font-family='"Liberation Sans", Arial, Helvetica, sans-serif'>10<tspan dy="-2.5" dx="0.5" font-size="4.8">2</tspan></text>
<text x="362.40" y="228.90" font-size="5.3" letter-spacing="0.5" font-weight="bold" fill="#111" stroke="#111" stroke-width="0.25" font-family='"Liberation Sans", Arial, Helvetica, sans-serif'>10<tspan dy="-2.5" dx="0.5" font-size="4.8">3</tspan></text>
<g fill="#555" opacity="0.50"><rect x="290.01" y="192.66" width="1.15" height="1.15"/><rect x="291.51" y="189.21" width="1.15" height="1.15"/><rect x="291.21" y="189.47" width="1.15" height="1.15"/><rect x="292.12" y="188.36" width="1.15" height="1.15"/><rect x="293.11" y="189.54" width="1.15" height="1.15"/><rect x="295.39" y="191.27" width="1.15" height="1.15"/><rect x="295.25" y="191.98" width="1.15" height="1.15"/><rect x="297.16" y="191.57" width="1.15" height="1.15"/><rect x="298.55" y="195.78" width="1.15" height="1.15"/><rect x="298.36" y="197.42" width="1.15" height="1.15"/><rect x="299.67" y="197.73" width="1.15" height="1.15"/><rect x="301.73" y="200.71" width="1.15" height="1.15"/><rect x="301.24" y="201.36" width="1.15" height="1.15"/><rect x="302.87" y="203.03" width="1.15" height="1.15"/><rect x="303.29" y="204.93" width="1.15" height="1.15"/><rect x="305.23" y="205.92" width="1.15" height="1.15"/><rect x="305.93" y="209.16" width="1.15" height="1.15"/><rect x="305.96" y="210.63" width="1.15" height="1.15"/><rect x="308.04" y="212.94" width="1.15" height="1.15"/><rect x="308.03" y="216.06" width="1.15" height="1.15"/><rect x="310.33" y="217.49" width="1.15" height="1.15"/><rect x="310.10" y="216.56" width="1.15" height="1.15"/><rect x="310.98" y="219.38" width="1.15" height="1.15"/><rect x="312.39" y="218.32" width="1.15" height="1.15"/></g>
<path d="M289.10 212.00 L290.50 210.00 L292.00 207.60 L294.00 204.40 L296.00 201.00 L298.00 197.60 L300.00 194.20 L302.00 190.80 L304.00 187.40 L305.50 184.60 L306.60 182.40 L307.00 180.40 L307.50 183.20 L308.40 184.00 L309.40 185.40 L310.20 187.20 L311.20 191.00 L312.20 195.00 L313.20 198.80 L314.20 203.40 L315.20 209.00 L316.20 213.60 L317.40 216.40 L318.80 217.80 L321.00 218.60" fill="none" stroke="#111" stroke-width="1.60" stroke-linejoin="round"/>
<g stroke="#111" stroke-width="1.4" fill="none">
<line x1="393.10" y1="134.00" x2="393.10" y2="221.70" stroke-width="1.25"/>
<line x1="390.70" y1="218.10" x2="485.00" y2="218.10"/>
</g>
<g stroke="#111" stroke-width="1.05">
<line x1="390.50" y1="200.10" x2="393.10" y2="200.10"/>
<line x1="390.50" y1="182.10" x2="393.10" y2="182.10"/>
<line x1="390.50" y1="164.10" x2="393.10" y2="164.10"/>
<line x1="390.50" y1="146.10" x2="393.10" y2="146.10"/>
</g>
<g stroke="#222" stroke-width="0.8">
<line x1="401.08" y1="218.10" x2="401.08" y2="220.00"/>
<line x1="405.74" y1="218.10" x2="405.74" y2="220.00"/>
<line x1="409.05" y1="218.10" x2="409.05" y2="220.00"/>
<line x1="411.62" y1="218.10" x2="411.62" y2="220.00"/>
<line x1="413.72" y1="218.10" x2="413.72" y2="220.00"/>
<line x1="415.50" y1="218.10" x2="415.50" y2="220.00"/>
<line x1="417.03" y1="218.10" x2="417.03" y2="220.00"/>
<line x1="418.39" y1="218.10" x2="418.39" y2="220.00"/>
<line x1="419.60" y1="218.10" x2="419.60" y2="221.70"/>
<line x1="427.58" y1="218.10" x2="427.58" y2="220.00"/>
<line x1="432.24" y1="218.10" x2="432.24" y2="220.00"/>
<line x1="435.55" y1="218.10" x2="435.55" y2="220.00"/>
<line x1="438.12" y1="218.10" x2="438.12" y2="220.00"/>
<line x1="440.22" y1="218.10" x2="440.22" y2="220.00"/>
<line x1="442.00" y1="218.10" x2="442.00" y2="220.00"/>
<line x1="443.53" y1="218.10" x2="443.53" y2="220.00"/>
<line x1="444.89" y1="218.10" x2="444.89" y2="220.00"/>
<line x1="446.10" y1="218.10" x2="446.10" y2="221.70"/>
<line x1="454.08" y1="218.10" x2="454.08" y2="220.00"/>
<line x1="458.74" y1="218.10" x2="458.74" y2="220.00"/>
<line x1="462.05" y1="218.10" x2="462.05" y2="220.00"/>
<line x1="464.62" y1="218.10" x2="464.62" y2="220.00"/>
<line x1="466.72" y1="218.10" x2="466.72" y2="220.00"/>
<line x1="468.50" y1="218.10" x2="468.50" y2="220.00"/>
<line x1="470.03" y1="218.10" x2="470.03" y2="220.00"/>
<line x1="471.39" y1="218.10" x2="471.39" y2="220.00"/>
<line x1="472.60" y1="218.10" x2="472.60" y2="221.70"/>
<line x1="480.58" y1="218.10" x2="480.58" y2="220.00"/>
</g>
<text x="386.90" y="228.30" font-size="5.3" letter-spacing="0.5" font-weight="bold" fill="#111" stroke="#111" stroke-width="0.25" font-family='"Liberation Sans", Arial, Helvetica, sans-serif'>10<tspan dy="-2.5" dx="0.5" font-size="4.8">0</tspan></text>
<text x="413.40" y="228.30" font-size="5.3" letter-spacing="0.5" font-weight="bold" fill="#111" stroke="#111" stroke-width="0.25" font-family='"Liberation Sans", Arial, Helvetica, sans-serif'>10<tspan dy="-2.5" dx="0.5" font-size="4.8">1</tspan></text>
<text x="439.90" y="228.30" font-size="5.3" letter-spacing="0.5" font-weight="bold" fill="#111" stroke="#111" stroke-width="0.25" font-family='"Liberation Sans", Arial, Helvetica, sans-serif'>10<tspan dy="-2.5" dx="0.5" font-size="4.8">2</tspan></text>
<text x="466.40" y="228.30" font-size="5.3" letter-spacing="0.5" font-weight="bold" fill="#111" stroke="#111" stroke-width="0.25" font-family='"Liberation Sans", Arial, Helvetica, sans-serif'>10<tspan dy="-2.5" dx="0.5" font-size="4.8">3</tspan></text>
<g fill="#555" opacity="0.50"><rect x="393.76" y="192.68" width="1.15" height="1.15"/><rect x="395.47" y="189.85" width="1.15" height="1.15"/><rect x="395.26" y="191.31" width="1.15" height="1.15"/><rect x="397.01" y="190.10" width="1.15" height="1.15"/><rect x="397.14" y="187.72" width="1.15" height="1.15"/><rect x="399.22" y="188.76" width="1.15" height="1.15"/><rect x="399.10" y="191.44" width="1.15" height="1.15"/><rect x="401.11" y="192.35" width="1.15" height="1.15"/><rect x="401.12" y="194.03" width="1.15" height="1.15"/><rect x="402.08" y="195.70" width="1.15" height="1.15"/><rect x="403.77" y="195.81" width="1.15" height="1.15"/><rect x="404.95" y="199.58" width="1.15" height="1.15"/><rect x="405.43" y="198.99" width="1.15" height="1.15"/><rect x="406.89" y="201.37" width="1.15" height="1.15"/><rect x="407.14" y="203.16" width="1.15" height="1.15"/><rect x="408.03" y="205.32" width="1.15" height="1.15"/><rect x="409.49" y="207.64" width="1.15" height="1.15"/><rect x="411.29" y="209.52" width="1.15" height="1.15"/><rect x="411.82" y="210.98" width="1.15" height="1.15"/><rect x="412.54" y="212.16" width="1.15" height="1.15"/><rect x="413.36" y="213.71" width="1.15" height="1.15"/><rect x="415.23" y="216.81" width="1.15" height="1.15"/><rect x="415.25" y="217.80" width="1.15" height="1.15"/><rect x="417.58" y="217.67" width="1.15" height="1.15"/></g>
<path d="M393.10 212.00 L395.00 211.00 L397.00 210.00 L398.80 208.60 L400.60 206.40 L402.20 203.80 L403.60 200.40 L404.80 196.60 L406.00 192.60 L407.40 189.00 L408.80 185.60 L410.20 183.00 L411.60 180.60 L412.80 179.40 L414.00 179.80 L415.00 178.40 L415.60 177.40 L416.00 180.60 L416.80 183.40 L417.60 186.60 L418.60 192.00 L419.60 198.40 L420.60 204.60 L421.60 210.20 L422.80 214.40 L424.20 216.60 L426.00 217.60 L428.00 218.00" fill="none" stroke="#111" stroke-width="1.55" stroke-linejoin="round"/>
<g stroke="#111" stroke-width="1.5" fill="#111">
<line x1="85" y1="240.8" x2="470" y2="240.8"/>
<polygon points="479,240.8 467,237.5 467,244.1" stroke="none"/>
<line x1="495.3" y1="220" x2="495.3" y2="44"/>
<polygon points="495.3,33.5 492,45.5 498.6,45.5" stroke="none"/>
</g>
<g stroke="#111" fill="none">
<line x1="113.7" y1="301.5" x2="113.7" y2="551.6" stroke-width="1.65"/>
<line x1="107.8" y1="550.9" x2="243.5" y2="550.9" stroke-width="1.5"/>
<line x1="109.4" y1="501.8" x2="113.7" y2="501.8" stroke-width="1.3"/>
<line x1="109.4" y1="451.8" x2="113.7" y2="451.8" stroke-width="1.3"/>
<line x1="109.4" y1="401.8" x2="113.7" y2="401.8" stroke-width="1.3"/>
<line x1="109.4" y1="351.8" x2="113.7" y2="351.8" stroke-width="1.3"/>
<line x1="109.4" y1="301.8" x2="113.7" y2="301.8" stroke-width="1.3"/>
</g>
<g font-family='"Liberation Sans", Arial, Helvetica, sans-serif' fill="#111" font-size="10.6" text-anchor="end" stroke="#111" stroke-width="0.4">
<text transform="translate(106.1,555.7) scale(1.07,1)">0</text>
<text transform="translate(106.1,505.7) scale(1.07,1)">0.5</text>
<text transform="translate(106.1,455.7) scale(1.07,1)">1.0</text>
<text transform="translate(106.1,405.7) scale(1.07,1)">1.5</text>
<text transform="translate(106.1,355.7) scale(1.07,1)">2.0</text>
<text transform="translate(106.1,305.7) scale(1.07,1)">2.5</text>
</g>
<g font-family='"Liberation Sans", Arial, Helvetica, sans-serif' fill="#111">
<text transform="translate(79.50,432.04) rotate(-90) scale(0.9605,1)" font-size="17.46" stroke="#111" stroke-width="0.60" >MFI</text>
<text transform="translate(135.77,609.38) rotate(-46.68)" font-size="16.64" stroke="#111" stroke-width="0.6">Control</text>
<text transform="translate(175.52,620.17) rotate(-48.04)" font-size="18.09" stroke="#111" stroke-width="0.6">Osaka-5</text>
</g>
<g stroke="#111" stroke-width="1.15" fill="none">
<ellipse cx="162.1" cy="349.9" rx="3.0" ry="2.45"/>
<ellipse cx="162.1" cy="367.6" rx="3.0" ry="2.45"/>
<ellipse cx="162.1" cy="378.5" rx="3.0" ry="2.45"/>
<ellipse cx="162.1" cy="381.1" rx="3.0" ry="2.45"/>
<ellipse cx="162.1" cy="385.7" rx="3.0" ry="2.45"/>
<ellipse cx="162.1" cy="401.0" rx="3.0" ry="2.45"/>
<ellipse cx="162.1" cy="406.0" rx="3.0" ry="2.45"/>
<ellipse cx="162.1" cy="414.0" rx="3.0" ry="2.45"/>
<ellipse cx="162.1" cy="417.0" rx="3.0" ry="2.45"/>
<ellipse cx="162.1" cy="419.6" rx="3.0" ry="2.45"/>
<ellipse cx="162.1" cy="445.2" rx="3.0" ry="2.45"/>
</g>
<g stroke="#111" stroke-width="1.2" fill="none">
<path d="M183.1 367.6V421.4M176.2 367.6H190.7M176.2 421.4H190.7M176.2 394.9H190.7"/>
</g>
<ellipse cx="207.65" cy="485.7" rx="3.45" ry="3.15" fill="#111"/>
<g stroke="#111" fill="none">
<line x1="330.9" y1="296" x2="330.9" y2="551" stroke-width="1.3"/>
<line x1="326.5" y1="550.4" x2="474.8" y2="550.4" stroke-width="1.4"/>
<line x1="326.7" y1="514.1" x2="330.9" y2="514.1" stroke-width="1.2"/>
<line x1="326.7" y1="477.8" x2="330.9" y2="477.8" stroke-width="1.2"/>
<line x1="326.7" y1="441.6" x2="330.9" y2="441.6" stroke-width="1.2"/>
<line x1="326.7" y1="405.3" x2="330.9" y2="405.3" stroke-width="1.2"/>
<line x1="326.7" y1="369.0" x2="330.9" y2="369.0" stroke-width="1.2"/>
<line x1="326.7" y1="332.7" x2="330.9" y2="332.7" stroke-width="1.2"/>
<line x1="326.7" y1="296.4" x2="330.9" y2="296.4" stroke-width="1.2"/>
</g>
<g font-family='"Liberation Sans", Arial, Helvetica, sans-serif' fill="#111" font-size="10.1" font-weight="bold" text-anchor="end" stroke="#111" stroke-width="0.12">
<text transform="translate(325.8,553.1) scale(1.05,1)">0</text>
<text transform="translate(325.8,517.1) scale(1.05,1)">2</text>
<text transform="translate(325.8,481.2) scale(1.05,1)">4</text>
<text transform="translate(325.8,445.2) scale(1.05,1)">6</text>
<text transform="translate(325.8,409.3) scale(1.05,1)">8</text>
<text transform="translate(325.8,373.3) scale(1.05,1)">10</text>
<text transform="translate(325.8,337.3) scale(1.05,1)">12</text>
<text transform="translate(325.8,301.4) scale(1.05,1)">14</text>
</g>
<g font-family='"Liberation Sans", Arial, Helvetica, sans-serif' fill="#111">
<text transform="translate(300.98,470.09) rotate(-90) scale(1.0578,1)" font-size="15.83" stroke="#111" stroke-width="0.60" >ng/10</text>
<text transform="translate(289.60,428.24) rotate(-90) scale(1.4057,1)" font-size="10.14" stroke="#111" stroke-width="0.40" >8</text>
<text transform="translate(301.78,419.54) rotate(-90) scale(1.0800,1)" font-size="14.87" stroke="#111" stroke-width="0.60" >platelets</text>
<text transform="translate(353.98,611.23) rotate(-46.42)" font-size="16.63" stroke="#111" stroke-width="0.6">Control</text>
<text transform="translate(406.95,620.18) rotate(-48.33)" font-size="18.16" stroke="#111" stroke-width="0.6">Osaka-5</text>
</g>
<g stroke="#111" stroke-width="1.15" fill="none">
<ellipse cx="378.3" cy="329.0" rx="3.0" ry="2.45"/>
<ellipse cx="378.3" cy="357.8" rx="3.0" ry="2.45"/>
<ellipse cx="378.3" cy="374.9" rx="3.0" ry="2.45"/>
<ellipse cx="378.3" cy="378.1" rx="3.0" ry="2.45"/>
<ellipse cx="378.3" cy="382.4" rx="3.0" ry="2.45"/>
<ellipse cx="378.3" cy="395.8" rx="3.0" ry="2.45"/>
<ellipse cx="378.3" cy="415.2" rx="3.0" ry="2.45"/>
<ellipse cx="378.3" cy="417.7" rx="3.0" ry="2.45"/>
<ellipse cx="378.3" cy="422.5" rx="3.0" ry="2.45"/>
<ellipse cx="378.3" cy="441.5" rx="3.0" ry="2.45"/>
<ellipse cx="378.3" cy="453.7" rx="3.0" ry="2.45"/>
</g>
<g stroke="#111" stroke-width="1.2" fill="none">
<path d="M393.9 356.6V431.2M386.6 356.6H401.3M386.4 431.2H401.2M386.6 396.2H401.3"/>
</g>
<ellipse cx="436.2" cy="472.3" rx="3.5" ry="3.2" fill="#111"/>
</svg>
</body></html>
